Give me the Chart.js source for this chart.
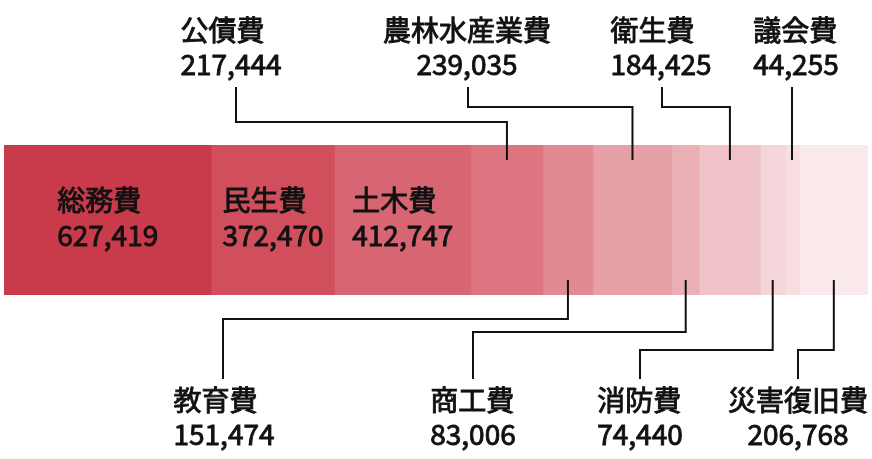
<!DOCTYPE html>
<html>
<head>
<meta charset="utf-8">
<script src="https://cdn.jsdelivr.net/npm/chart.js@4.4.1/dist/chart.umd.min.js"></script>
<style>
  html, body { margin: 0; padding: 0; background: #ffffff; }
  #wrap { width: 872px; height: 459px; }
</style>
</head>
<body>
<div id="wrap"><canvas id="c" width="872" height="459"></canvas></div>
<script>
// ---- data ----
const categories = ["総務費","民生費","土木費","公債費","教育費","農林水産業費","商工費","衛生費","消防費","議会費","災害復旧費"];
const values = [627419, 372470, 412747, 217444, 151474, 239035, 83006, 184425, 74440, 44255, 206768];

// ---- styles / layout (not data) ----
const colors = ["#c93a4b","#d14f5d","#d76572","#dc7580","#e18a92","#e6a0a7","#ebb0b6","#efc3c8","#f4d6da","#f6dee1","#f9e9eb"];
// placement: inside | top | bottom ; labelX = block centre, lineX = leader start x, elbowY = horizontal run y
const placement = [
  {pos:"inside"},
  {pos:"inside"},
  {pos:"inside"},
  {pos:"top", labelX:231, lineX:236, elbowY:122},
  {pos:"bottom", labelX:224, lineX:223, elbowY:319},
  {pos:"top", labelX:467, lineX:468, elbowY:107},
  {pos:"bottom", labelX:473, lineX:473, elbowY:332},
  {pos:"top", labelX:661, lineX:662, elbowY:107},
  {pos:"bottom", labelX:640, lineX:640, elbowY:350},
  {pos:"top", labelX:796, lineX:792, elbowY:null},
  {pos:"bottom", labelX:798, lineX:798, elbowY:350}
];
const FONT = '400 28px "Noto Sans CJK JP", "Noto Sans", sans-serif';
const TEXT_STROKE = 0.9;
const total = values.reduce((a,b)=>a+b,0);

const fmt = v => v.toLocaleString("en-US");

const labelPlugin = {
  id: "leaderLabels",
  afterDatasetsDraw(chart) {
    const ctx = chart.ctx;
    const xs = chart.scales.x;
    const area = chart.chartArea;
    const top = area.top, bottom = area.bottom;
    ctx.save();
    ctx.font = FONT;
    ctx.fillStyle = "#111111";
    ctx.strokeStyle = "#111111";
    ctx.lineJoin = "miter";
    ctx.textBaseline = "alphabetic";
    const txt = (s, x, y) => {
      ctx.fillText(s, x, y);
      ctx.lineWidth = TEXT_STROKE;
      ctx.strokeText(s, x, y);
    };
    let cum = 0;
    values.forEach((v, i) => {
      const x0 = xs.getPixelForValue(cum);
      const x1 = xs.getPixelForValue(cum + v);
      const cx = (x0 + x1) / 2;
      cum += v;
      const p = placement[i];
      const name = categories[i];
      const num = fmt(v);
      const wn = ctx.measureText(name).width;
      const wv = ctx.measureText(num).width;
      const bw = Math.max(wn, wv);
      let blockCx, nameBase, numBase;
      if (p.pos === "inside") {
        blockCx = cx; nameBase = 211; numBase = 246;
      } else if (p.pos === "top") {
        blockCx = p.labelX; nameBase = 41; numBase = 75;
      } else {
        blockCx = p.labelX; nameBase = 411; numBase = 445;
      }
      const left = blockCx - bw / 2;
      if (wn > wv) {
        ctx.textAlign = "center";
        txt(name, blockCx, nameBase);
        txt(num, blockCx, numBase);
      } else {
        ctx.textAlign = "left";
        txt(name, left, nameBase);
        txt(num, left, numBase);
      }
      ctx.lineWidth = 2;
      if (p.pos === "top") {
        ctx.beginPath();
        ctx.moveTo(p.lineX, 87);
        if (p.elbowY !== null) {
          ctx.lineTo(p.lineX, p.elbowY);
          ctx.lineTo(cx, p.elbowY);
          ctx.lineTo(cx, top + 15);
        } else {
          ctx.lineTo(p.lineX, top + 15);
        }
        ctx.stroke();
      } else if (p.pos === "bottom") {
        ctx.beginPath();
        ctx.moveTo(p.lineX, 379);
        ctx.lineTo(p.lineX, p.elbowY);
        ctx.lineTo(cx, p.elbowY);
        ctx.lineTo(cx, bottom - 15);
        ctx.stroke();
      }
    });
    ctx.restore();
  }
};

new Chart(document.getElementById("c"), {
  type: "bar",
  data: {
    labels: [""],
    datasets: values.map((v, i) => ({
      label: categories[i],
      data: [v],
      backgroundColor: colors[i],
      borderWidth: 0,
      barPercentage: 1,
      categoryPercentage: 1
    }))
  },
  options: {
    indexAxis: "y",
    responsive: false,
    animation: false,
    layout: { padding: { left: 4, right: 4, top: 145, bottom: 164 } },
    plugins: { legend: { display: false }, tooltip: { enabled: false } },
    scales: {
      x: { stacked: true, display: false, min: 0, max: total },
      y: { stacked: true, display: false }
    }
  },
  plugins: [labelPlugin]
});
</script>
</body>
</html>
